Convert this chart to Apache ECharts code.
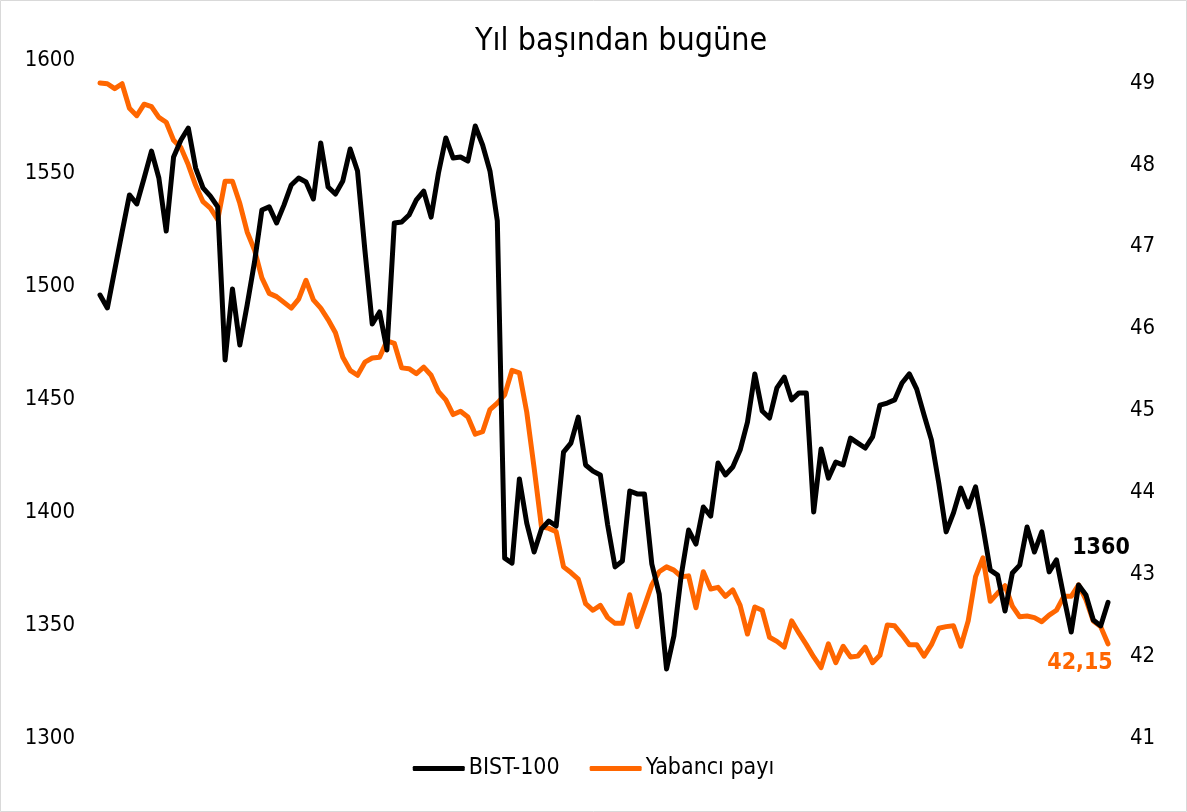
<!DOCTYPE html>
<html>
<head>
<meta charset="utf-8">
<title>Yıl başından bugüne</title>
<script src="https://cdn.jsdelivr.net/npm/echarts@6/dist/echarts.min.js"></script>
<style>
    html, body { margin: 0; padding: 0; background: #fff; }
    #container { width: 1187px; height: 812px; }
</style>
</head>
<body>
<div id="container"></div>
<script type="text/javascript">
    // BIST-100 endeksi (sol eksen)
    var bist100 = [
        1496.0,1490.3,1507.1,1523.9,1540.3,1536.3,1547.8,1559.7,1547.8,1524.3,
        1557.1,1564.6,1569.9,1552.2,1543.4,1539.8,1535.0,1467.3,1498.7,1473.9,
        1491.6,1510.6,1533.6,1535.0,1527.9,1535.8,1544.7,1547.8,1546.0,1538.5,
        1563.3,1543.8,1540.7,1546.5,1560.6,1550.9,1515.9,1483.2,1488.5,1471.7,
        1527.9,1528.3,1531.4,1538.1,1542.0,1530.5,1550.0,1565.5,1556.6,1557.1,
        1555.3,1570.8,1562.4,1550.9,1528.8,1379.6,1377.4,1414.6,1395.1,1382.3,
        1392.5,1396.0,1393.8,1426.5,1430.5,1442.0,1420.8,1418.1,1416.4,1394.2,
        1375.7,1378.3,1409.3,1408.0,1408.0,1377.0,1363.7,1330.5,1345.1,1372.1,
        1392.0,1385.8,1402.2,1398.2,1421.7,1416.4,1419.9,1427.4,1439.8,1461.1,
        1444.7,1441.6,1454.9,1459.7,1449.6,1452.7,1452.7,1400.0,1427.9,1415.0,
        1422.1,1420.8,1432.7,1430.5,1428.3,1433.2,1447.3,1448.2,1449.6,1457.1,
        1461.1,1454.4,1442.9,1431.9,1412.8,1391.2,1399.6,1410.6,1402.2,1411.1,
        1393.4,1374.3,1372.1,1356.2,1373.0,1376.5,1393.4,1382.3,1391.2,1373.5,
        1378.8,1362.4,1346.9,1367.7,1363.3,1352.2,1349.6,1360
    ];
    // Yabancı payı, % (sağ eksen)
    var yabanciPayi = [
        49.00,48.99,48.93,48.99,48.69,48.60,48.74,48.71,48.58,48.52,
        48.30,48.21,48.00,47.75,47.55,47.47,47.33,47.80,47.80,47.53,
        47.18,46.96,46.62,46.43,46.39,46.32,46.25,46.36,46.59,46.35,
        46.25,46.11,45.95,45.65,45.49,45.43,45.59,45.64,45.65,45.85,
        45.82,45.52,45.51,45.45,45.53,45.43,45.23,45.13,44.95,44.99,
        44.92,44.71,44.74,45.01,45.09,45.19,45.49,45.46,44.98,44.30,
        43.58,43.56,43.52,43.09,43.02,42.94,42.64,42.56,42.62,42.47,
        42.40,42.40,42.75,42.36,42.61,42.87,43.03,43.09,43.05,42.97,
        42.98,42.59,43.03,42.82,42.84,42.73,42.81,42.62,42.27,42.60,
        42.56,42.23,42.18,42.11,42.43,42.28,42.14,41.99,41.86,42.15,
        41.92,42.12,41.99,42.00,42.11,41.92,42.01,42.38,42.37,42.26,
        42.14,42.14,42.00,42.14,42.34,42.36,42.37,42.12,42.43,42.97,
        43.20,42.67,42.77,42.86,42.61,42.48,42.49,42.47,42.42,42.50,
        42.56,42.73,42.73,42.87,42.69,42.43,42.36,42.15
    ];
    var seriesNames = ['BIST-100', 'Yabancı payı'];
    var solTicks = [1300, 1350, 1400, 1450, 1500, 1550, 1600];
    var sagTicks = [41, 42, 43, 44, 45, 46, 47, 48, 49];

    // işlem günleri (eksende etiket yok)
    var gunler = [];
    for (var g = 1; g <= bist100.length; g++) {
        gunler.push('G' + g);
    }

    var font = "'DejaVu Sans Condensed', 'DejaVu Sans', sans-serif";

    var dom = document.getElementById('container');
    var myChart = echarts.init(dom);
    var option = {
        backgroundColor: '#fff',
        animation: false,
        title: {
            text: 'Yıl başından bugüne',
            left: 470,
            top: 21,
            textStyle: { fontFamily: font, fontSize: 32, fontWeight: 'normal', color: '#000' }
        },
        legend: {
            data: seriesNames,
            bottom: 27,
            left: 'center',
            icon: 'roundRect',
            itemWidth: 52,
            itemHeight: 5,
            itemGap: 30,
            textStyle: { fontFamily: font, fontSize: 23, color: '#000', padding: [0, 0, 0, -1] }
        },
        graphic: [{
            type: 'rect',
            shape: { x: 0.5, y: 0.5, width: 1186, height: 811 },
            style: { fill: 'none', stroke: '#d9d9d9', lineWidth: 1 },
            silent: true
        }],
        grid: { left: 100, right: 79, top: 60, bottom: 74 },
        xAxis: {
            type: 'category',
            data: gunler,
            boundaryGap: false,
            show: false
        },
        yAxis: [{
            type: 'value',
            min: solTicks[0],
            max: solTicks[solTicks.length - 1],
            interval: 50,
            axisLine: { show: false },
            axisTick: { show: false },
            splitLine: { show: false },
            axisLabel: {
                margin: 25, fontFamily: font, fontSize: 22, color: '#000',
                formatter: function (v) { return String(v); }
            }
        }, {
            type: 'value',
            min: sagTicks[0],
            max: 49.28,
            interval: 1,
            axisLine: { show: false },
            axisTick: { show: false },
            splitLine: { show: false },
            axisLabel: {
                margin: 22, fontFamily: font, fontSize: 22, color: '#000', showMaxLabel: false,
                formatter: function (v) { return v % 1 === 0 ? String(v) : ''; }
            }
        }],
        series: [{
            name: seriesNames[0],
            type: 'line',
            yAxisIndex: 0,
            showSymbol: false,
            symbol: 'none',
            z: 3,
            color: '#000',
            lineStyle: { width: 5, color: '#000', cap: 'round', join: 'round' },
            endLabel: {
                show: true, align: 'center', verticalAlign: 'middle', distance: 0, offset: [-7, -54],
                fontFamily: font, fontSize: 23, fontWeight: 'bold', color: '#000',
                formatter: function (p) { return String(p.value); }
            },
            data: bist100
        }, {
            name: seriesNames[1],
            type: 'line',
            yAxisIndex: 1,
            showSymbol: false,
            symbol: 'none',
            z: 2,
            color: '#ff6600',
            lineStyle: { width: 5, color: '#ff6600', cap: 'round', join: 'round' },
            endLabel: {
                show: true, align: 'center', verticalAlign: 'middle', distance: 0, offset: [-28, 19],
                fontFamily: font, fontSize: 23, fontWeight: 'bold', color: '#ff6600',
                formatter: function (p) { return p.value.toFixed(2).replace('.', ','); }
            },
            data: yabanciPayi
        }]
    };

    if (option && typeof option === 'object') {
        myChart.setOption(option, true);
    }
</script>
</body>
</html>
